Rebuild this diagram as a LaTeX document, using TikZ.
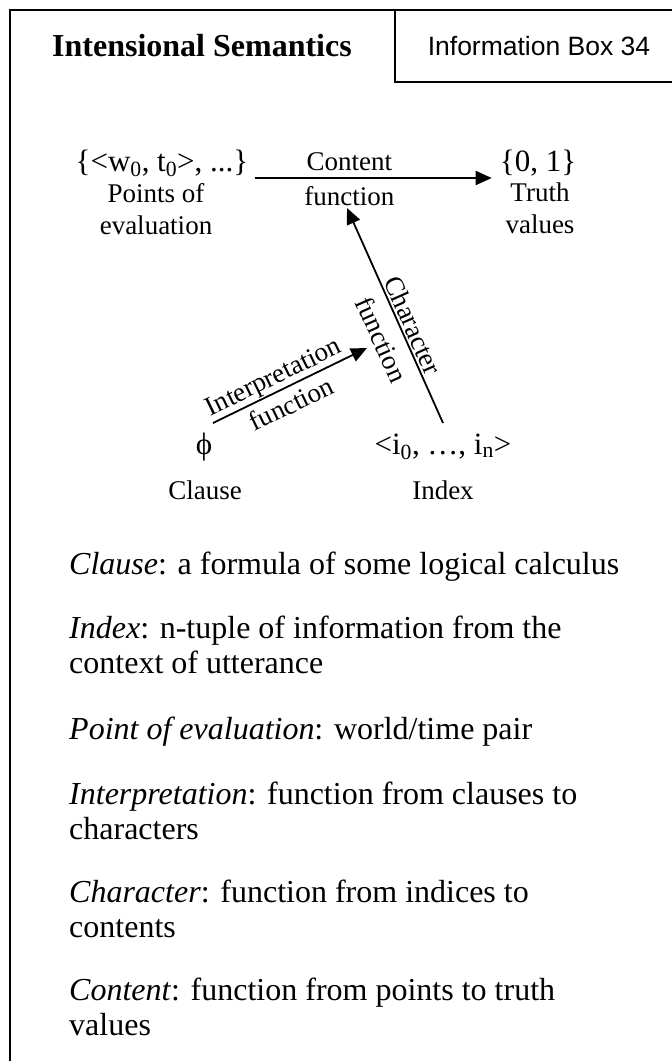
\documentclass[tikz,border=0pt]{standalone}
\usepackage{fontspec}
\setmainfont{Liberation Serif}
\newfontfamily\arialfont{Liberation Sans}
\usetikzlibrary{arrows.meta}
\tikzset{
  frame/.style={line width=1.8pt},
  arr/.style={line width=1.8pt,-{Triangle[length=16pt,width=14pt]}},
  lbl/.style={inner sep=0pt,font=\fontsize{27}{32}\selectfont,align=center},
  formula/.style={inner sep=0pt,font=\fontsize{31}{36}\selectfont},
  body/.style={inner sep=0pt,anchor=base west,font=\fontsize{32}{35}\selectfont},
}
\begin{document}
\begin{tikzpicture}[x=1pt,y=-1pt]
\useasboundingbox (0,0) rectangle (672,1061);
\fill[white] (0,0) rectangle (672,1061);
% frame
\draw[frame] (10,1061) -- (10,10) -- (672,10);
\draw[frame] (395,10) -- (395,82) -- (672,82);
\node[inner sep=0pt,font=\fontsize{32}{36}\selectfont\bfseries] (title) at (202,46) {Intensional Semantics};
\node[inner sep=0pt,font=\arialfont\fontsize{26.5}{30}\selectfont] (ibox) at (539,46) {Information Box 34};
% diagram
\node[formula,anchor=base] (pts) at (162,171) {\{<w\textsubscript{0}, t\textsubscript{0}>, ...\}};
\node[lbl,anchor=north] (ptslab) at (156,183) {Points of\\evaluation};
\node[formula,anchor=base] (tv) at (538,171) {\{0, 1\}};
\node[lbl,anchor=north] (tvlab) at (540,183) {Truth\\values};
\node[formula,anchor=base] (phi) at (204,454) {ϕ};
\node[formula,anchor=base] (idx) at (443,454) {<i\textsubscript{0}, …, i\textsubscript{n}>};
\node[lbl,anchor=base] (clause) at (205,499) {Clause};
\node[lbl,anchor=base] (index) at (443,499) {Index};
\coordinate (cfn) at (347,208);
\coordinate (ifn) at (367,348);
\coordinate (phiend) at (213,423);
\coordinate (idxend) at (443,423);
\draw[arr] ([xshift=6pt,yshift=-7pt]pts.base east) -- ([xshift=-8pt,yshift=-7pt]tv.base west)
  node[lbl,pos=0.4,above=6pt] (cont) {Content}
  node[lbl,pos=0.4,below=8pt] (contf) {function};
\draw[arr] (idxend) -- (cfn);
\path (cfn) -- (idxend)
  node[lbl,pos=0.57,sloped,above=3pt] (charl) {Character}
  node[lbl,pos=0.57,sloped,below=12pt] (charf) {function};
\draw[arr] (phiend) -- (ifn);
\path (phiend) -- (ifn)
  node[lbl,pos=0.435,sloped,above=1pt] (intl) {Interpretation}
  node[lbl,pos=0.46,sloped,below=7pt] (intf) {function};
% definitions
\node[body] (d1) at (69,574) {\textit{Clause}: a formula of some logical calculus};
\node[body] (d2) at (69,638) {\textit{Index}: n-tuple of information from the};
\node[body] (d2b) at (69,673) {context of utterance};
\node[body] (d3) at (69,739) {\textit{Point of evaluation}: world/time pair};
\node[body] (d4) at (69,804) {\textit{Interpretation}: function from clauses to};
\node[body] (d4b) at (69,839) {characters};
\node[body] (d5) at (69,902) {\textit{Character}: function from indices to};
\node[body] (d5b) at (69,937) {contents};
\node[body] (d6) at (69,1000) {\textit{Content}: function from points to truth};
\node[body] (d6b) at (69,1035) {values};
\end{tikzpicture}
\end{document}
